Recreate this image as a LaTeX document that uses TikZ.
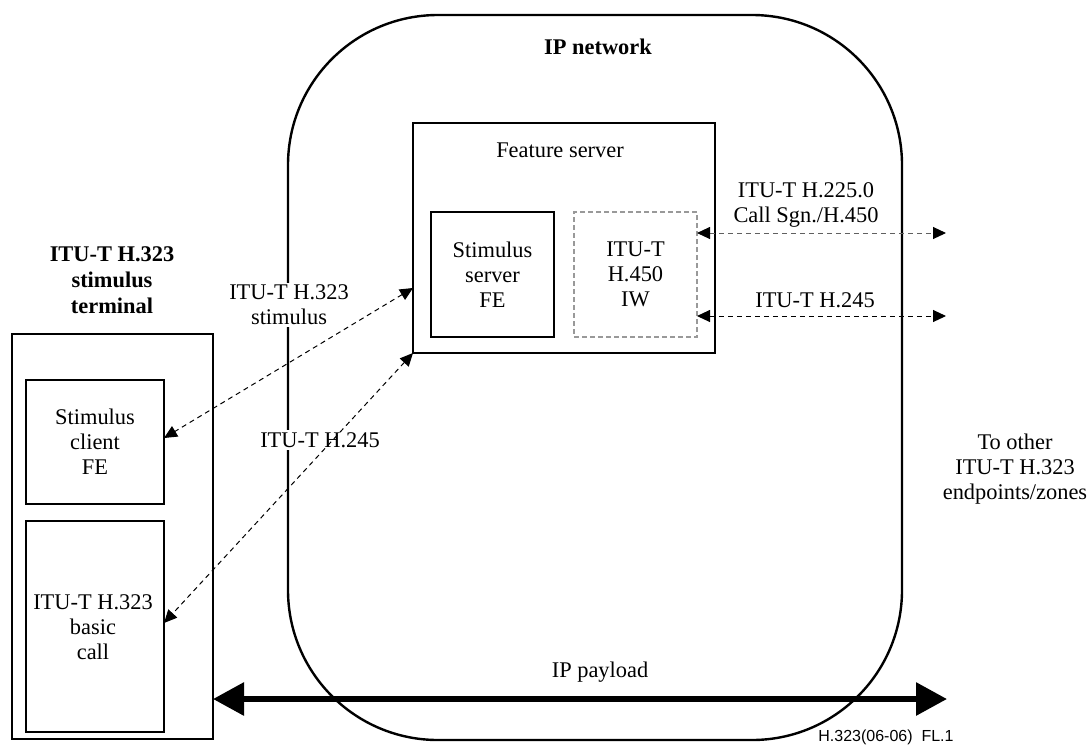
\documentclass[tikz,border=0pt]{standalone}
\usepackage{fontspec}
\setmainfont{Liberation Serif}
\newfontfamily\footfont{Liberation Sans}
\usetikzlibrary{arrows.meta}
\begin{document}
\begin{tikzpicture}[x=0.5pt,y=-0.5pt,
  every node/.style={font=\fontsize{11.2}{12.5}\selectfont, align=center, inner sep=0pt, outer sep=0pt},
  box/.style={draw, line width=1.2pt},
  iwbox/.style={draw=gray!80, line width=0.6pt, dash pattern=on 2.5pt off 1.5pt},
  dar/.style={line width=0.5pt, dash pattern=on 2.5pt off 2pt,
    {Triangle[length=6.5pt,width=6pt,color=black]}-{Triangle[length=6.5pt,width=6pt,color=black]}},
  lbl/.style={fill=white, inner sep=1pt}]
\useasboundingbox (0,0) rectangle (1090,745);

% IP network
\node[box, rounded corners=75pt, minimum width=307pt, minimum height=362.5pt] (ipn) at (595,377.5) {};
\node[font=\fontsize{11.2}{12.5}\selectfont\bfseries] (ipnl) at (598,47) {IP network};

% Feature server
\node[box, minimum width=151pt, minimum height=115pt] (fs) at (564,238) {};
\node (fsl) at (560,150) {Feature server};
\node[box, minimum width=61.5pt, minimum height=62.5pt] (ssfe) at (492.5,274.5) {Stimulus\\server\\FE};
\node[iwbox, minimum width=61.5pt, minimum height=62.5pt] (iw) at (635.5,274.5) {ITU-T\\H.450\\IW};

% Terminal
\node[font=\fontsize{11.2}{13}\selectfont\bfseries] (terml) at (112,280) {ITU-T H.323\\stimulus\\terminal};
\node[box, minimum width=100.5pt, minimum height=202.5pt] (term) at (112.5,536.5) {};
\node[box, minimum width=69pt, minimum height=62pt] (client) at (95,442) {Stimulus\\client\\FE};
\node[box, minimum width=69pt, minimum height=105.5pt] (basic) at (95,626.5) {};
\node (basicl) at (93,627) {ITU-T H.323\\basic\\call};

% labels over the network line
\node[lbl] (l1) at (289,305) {ITU-T H.323\\stimulus};
\node[lbl] (l2) at (320,440) {ITU-T H.245};

% right side
\coordinate (r1) at (946,233);
\coordinate (r2) at (946,316);
\coordinate (r3) at (947,699);
\node (l3) at (806,205) {ITU-T H.225.0\\Call Sgn./H.450};
\node (l4) at (815,300) {ITU-T H.245};
\node (l5) at (1015,469) {To other\\ITU-T H.323\\endpoints/zones};
\node (l6) at (600,672) {IP payload};
\node[font=\footfont\fontsize{8}{9}\selectfont] (fl) at (886,737) {H.323(06-06)\ \ FL.1};

% connectors
\draw[dar] ([yshift=-25pt]fs.west) -- ([yshift=2pt]client.east);
\draw[dar] (fs.south west) -- ([yshift=1.75pt]basic.east);
\draw[dar, draw=gray!75!black] ([yshift=20.75pt]iw.east) -- (r1);
\draw[dar] ([yshift=-20.75pt]iw.east) -- (r2);
\draw[line width=3pt, {Triangle[length=15.5pt,width=16pt]}-{Triangle[length=15.5pt,width=16pt]}]
  ([yshift=-81.25pt]term.east) -- (r3);
\end{tikzpicture}
\end{document}
